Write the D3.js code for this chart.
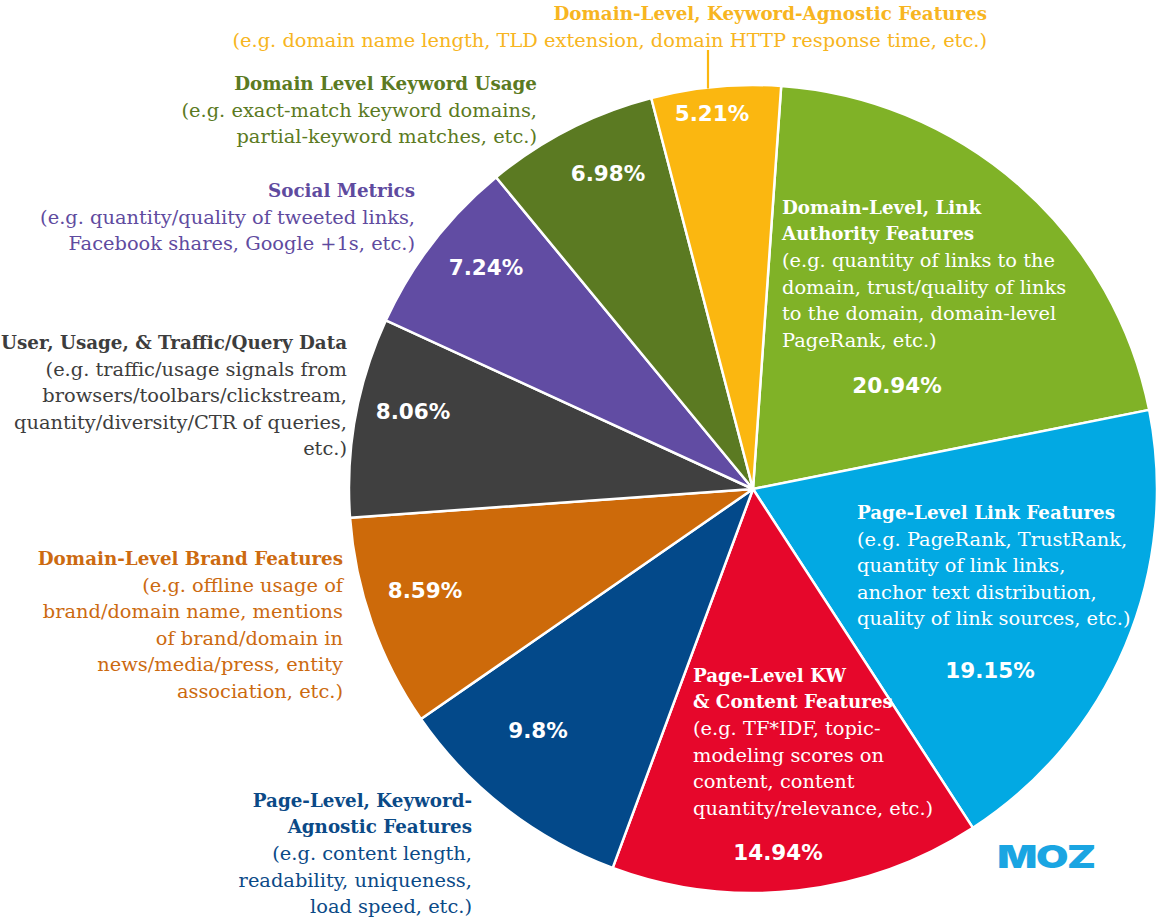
<!DOCTYPE html>
<html>
<head>
<meta charset="utf-8">
<script src="https://cdn.jsdelivr.net/npm/d3@7/dist/d3.min.js"></script>
<style>
  html, body { margin: 0; padding: 0; background: #ffffff; }
  svg { display: block; }
  .ttl { font-family: "DejaVu Serif", serif; font-weight: bold; font-size: 18.3px; }
  .dsc { font-family: "DejaVu Serif", serif; font-size: 19.4px; }
  .pct { font-family: "DejaVu Sans", sans-serif; font-weight: bold; font-size: 21.5px; fill: #ffffff; }
</style>
</head>
<body>
<svg id="chart" width="1163" height="918"></svg>
<script>
// ---- data ----
const categories = [
  "Domain-Level, Link Authority Features",
  "Page-Level Link Features",
  "Page-Level KW & Content Features",
  "Page-Level, Keyword-Agnostic Features",
  "Domain-Level Brand Features",
  "User, Usage, & Traffic/Query Data",
  "Social Metrics",
  "Domain Level Keyword Usage",
  "Domain-Level, Keyword-Agnostic Features"
];
const values = [20.94, 19.15, 14.94, 9.8, 8.59, 8.06, 7.24, 6.98, 5.21];
const pctLabels = ["20.94%", "19.15%", "14.94%", "9.8%", "8.59%", "8.06%", "7.24%", "6.98%", "5.21%"];
const titleLines = [
  ["Domain-Level, Link", "Authority Features"],
  ["Page-Level Link Features"],
  ["Page-Level KW", "& Content Features"],
  ["Page-Level, Keyword-", "Agnostic Features"],
  ["Domain-Level Brand Features"],
  ["User, Usage, & Traffic/Query Data"],
  ["Social Metrics"],
  ["Domain Level Keyword Usage"],
  ["Domain-Level, Keyword-Agnostic Features"]
];
const descLines = [
  ["(e.g. quantity of links to the", "domain, trust/quality of links", "to the domain, domain-level", "PageRank, etc.)"],
  ["(e.g. PageRank, TrustRank,", "quantity of link links,", "anchor text distribution,", "quality of link sources, etc.)"],
  ["(e.g. TF*IDF, topic-", "modeling scores on", "content, content", "quantity/relevance, etc.)"],
  ["(e.g. content length,", "readability, uniqueness,", "load speed, etc.)"],
  ["(e.g. offline usage of", "brand/domain name, mentions", "of brand/domain in", "news/media/press, entity", "association, etc.)"],
  ["(e.g. traffic/usage signals from", "browsers/toolbars/clickstream,", "quantity/diversity/CTR of queries,", "etc.)"],
  ["(e.g. quantity/quality of tweeted links,", "Facebook shares, Google +1s, etc.)"],
  ["(e.g. exact-match keyword domains,", "partial-keyword matches, etc.)"],
  ["(e.g. domain name length, TLD extension, domain HTTP response time, etc.)"]
];

// ---- styles / layout (kept apart from data) ----
const sliceColors = ["#80b227", "#02a9e3", "#e6072b", "#03498a", "#cd6a0a", "#404040", "#614ca3", "#5b7a22", "#fbb710"];
const textColors  = ["#ffffff", "#ffffff", "#ffffff", "#0b4a87", "#cc6a10", "#3d3d3d", "#5f4b9f", "#5b7a22", "#f7b521"];
const labelLayout = [
  { x: 782, y: 207, anchor: "start" },
  { x: 857, y: 512, anchor: "start" },
  { x: 693, y: 675, anchor: "start" },
  { x: 472, y: 800, anchor: "end" },
  { x: 343, y: 558, anchor: "end" },
  { x: 347, y: 342, anchor: "end" },
  { x: 415, y: 190, anchor: "end" },
  { x: 537, y: 83,  anchor: "end" },
  { x: 987, y: 13,  anchor: "end" }
];
const pctLayout = [
  [897, 385], [990, 670], [778, 852], [538, 730], [425, 590],
  [413, 411], [486, 267], [608, 173], [712, 113]
];
const lineH = 26.6;

const cx = 753, cy = 489, R = 404;
const rot = 4 * Math.PI / 180;

const svg = d3.select("#chart");
const g = svg.append("g").attr("transform", `translate(${cx},${cy})`);

const pie = d3.pie().sort(null).value(d => d)
  .startAngle(rot).endAngle(rot + 2 * Math.PI);
const arc = d3.arc().innerRadius(0).outerRadius(R);
const arcs = pie(values);

g.selectAll("path.slice")
  .data(arcs)
  .enter().append("path")
  .attr("class", "slice")
  .attr("d", arc)
  .attr("fill", (d, i) => sliceColors[i])
  .attr("stroke", "#ffffff")
  .attr("stroke-width", 2.5)
  .attr("stroke-linejoin", "round");

// leader line for the small top slice
svg.append("line")
  .attr("x1", 708).attr("y1", 50)
  .attr("x2", 708).attr("y2", cy - Math.sqrt(R * R - (708 - cx) * (708 - cx)) + 1)
  .attr("stroke", sliceColors[8]).attr("stroke-width", 2.2);

// category labels
categories.forEach((c, i) => {
  const L = labelLayout[i];
  const t = svg.append("text")
    .attr("x", L.x).attr("y", L.y)
    .attr("text-anchor", L.anchor)
    .attr("fill", textColors[i]);
  let k = 0;
  titleLines[i].forEach(s => {
    t.append("tspan").attr("class", "ttl").attr("x", L.x)
      .attr("y", L.y + k * lineH).attr("dy", "0.36em").text(s);
    k++;
  });
  descLines[i].forEach(s => {
    t.append("tspan").attr("class", "dsc").attr("x", L.x)
      .attr("y", L.y + k * lineH).attr("dy", "0.36em").text(s);
    k++;
  });
});

// percentage labels
svg.selectAll("text.pct")
  .data(pctLabels)
  .enter().append("text")
  .attr("class", "pct")
  .attr("x", (d, i) => pctLayout[i][0])
  .attr("y", (d, i) => pctLayout[i][1])
  .attr("dy", "0.36em")
  .attr("text-anchor", "middle")
  .text(d => d);

// MOZ logo
svg.append("text")
  .attr("x", 0).attr("y", 0)
  .attr("transform", "translate(1046,868) scale(1.35,1)")
  .attr("text-anchor", "middle")
  .attr("font-family", "Inter, 'DejaVu Sans', sans-serif")
  .attr("font-weight", 900)
  .attr("font-size", 31)
  .attr("letter-spacing", -1)
  .attr("fill", "#1aa5e2")
  .text("MOZ");
</script>
</body>
</html>
